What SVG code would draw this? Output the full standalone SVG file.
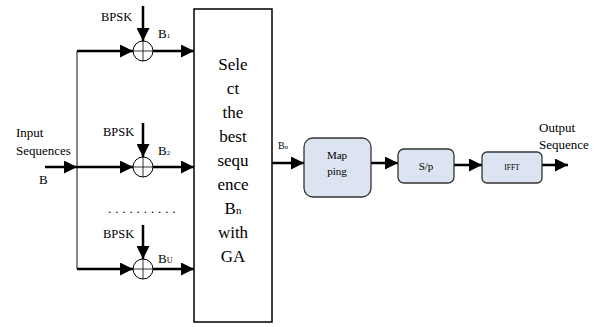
<svg xmlns="http://www.w3.org/2000/svg" width="600" height="327" viewBox="0 0 600 327">
<defs>
<marker id="ah" viewBox="0 0 10 10" refX="10" refY="5" markerWidth="5.2" markerHeight="5.2" markerUnits="strokeWidth" orient="auto">
<path d="M0,0 L10,5 L0,10 z" fill="#000"/>
</marker>
</defs>
<style>
text{font-family:"Liberation Serif","Times New Roman",serif;fill:#000}
.t{font-size:13px}
.bp{font-size:12.5px}
.big{font-size:17px;text-anchor:middle}
.c{text-anchor:middle}
.thin{stroke:#555;stroke-width:1.4;fill:none}
.arr{stroke:#000;stroke-width:2.5;fill:none;marker-end:url(#ah)}
.box{fill:#dbe4f0;stroke:#333;stroke-width:1.3}
.sum{fill:#fff;stroke:#000;stroke-width:1}
</style>
<rect width="600" height="327" fill="#fff"/>
<g id="connectors">
<path class="thin" d="M77,51 V269"/>
<path class="arr" d="M77,51 H133"/>
<path class="arr" d="M77,167 H133"/>
<path class="arr" d="M77,269 H133"/>
<path class="arr" d="M45,167 H77"/>
<path class="arr" d="M153,51 H194"/>
<path class="arr" d="M153,167 H194"/>
<path class="arr" d="M153,269 H194"/>
<path class="arr" d="M143,6 V41"/>
<path class="arr" d="M143,123 V157"/>
<path class="arr" d="M143,225 V259"/>
<path class="arr" d="M272,163 H304"/>
<path class="arr" d="M371,163 H398"/>
<path class="arr" d="M454,165 H482"/>
<path class="arr" d="M542,165 H568"/>
</g>
<g id="input-label">
<text class="t" x="16" y="137">Input</text>
<text class="t" x="16" y="155">Sequences</text>
<text class="t" x="39" y="184">B</text>
</g>
<g id="sum1">
<circle class="sum" cx="143" cy="51" r="10"/>
<path d="M133,51 H153 M143,41 V61" stroke="#000" stroke-width="0.8"/>
<text class="bp" x="101" y="21">BPSK</text>
<text class="t" x="158" y="38">B<tspan font-size="7">1</tspan></text>
</g>
<g id="sum2">
<circle class="sum" cx="143" cy="167" r="10"/>
<path d="M133,167 H153 M143,157 V177" stroke="#000" stroke-width="0.8"/>
<text class="bp" x="103" y="136">BPSK</text>
<text class="t" x="158" y="155">B<tspan font-size="7">2</tspan></text>
</g>
<g id="dots">
<text class="t" x="108" y="213" letter-spacing="3.9">..........</text>
</g>
<g id="sumU">
<circle class="sum" cx="143" cy="269" r="10"/>
<path d="M133,269 H153 M143,259 V279" stroke="#000" stroke-width="0.8"/>
<text class="bp" x="103" y="238">BPSK</text>
<text class="t" x="158" y="263">B<tspan font-size="8">U</tspan></text>
</g>
<g id="select">
<rect x="194" y="9" width="78" height="313" fill="#fff" stroke="#000" stroke-width="1.5"/>
<text class="big" x="233" y="70">Sele</text>
<text class="big" x="233" y="94">ct</text>
<text class="big" x="233" y="118">the</text>
<text class="big" x="233" y="142">best</text>
<text class="big" x="233" y="166">sequ</text>
<text class="big" x="233" y="190">ence</text>
<text class="big" x="233" y="214">B<tspan font-size="11">n</tspan></text>
<text class="big" x="233" y="238">with</text>
<text class="big" x="233" y="262">GA</text>
</g>
<g id="bn-label">
<text x="278" y="149" font-size="10">B<tspan font-size="6.5">n</tspan></text>
</g>
<g id="mapping">
<rect class="box" x="304" y="138" width="67" height="59" rx="9"/>
<text class="c" x="337" y="159" font-size="11">Map</text>
<text class="c" x="337" y="175" font-size="11">ping</text>
</g>
<g id="sp">
<rect class="box" x="398" y="149" width="56" height="34" rx="6"/>
<text class="c" x="426" y="170" font-size="11">S/p</text>
</g>
<g id="ifft">
<rect class="box" x="482" y="152" width="60" height="31" rx="5"/>
<text class="c" x="512" y="170" font-size="7.5">IFFT</text>
</g>
<g id="output-label">
<text class="t" x="539" y="132">Output</text>
<text class="t" x="539" y="149">Sequence</text>
</g>
</svg>
